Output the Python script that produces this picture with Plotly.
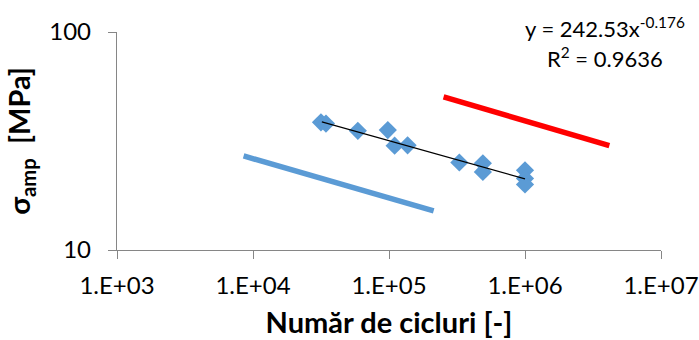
import plotly.graph_objects as go

# measured data (cycles, stress amplitude MPa)
cycles = [3.16e4, 3.44e4, 5.9e4, 9.8e4, 1.1e5, 1.37e5, 3.29e5, 4.9e5, 4.9e5, 1.0e6, 1.0e6, 1.0e6]
stress = [38.5, 38.0, 35.2, 35.5, 30.1, 30.2, 25.2, 25.0, 22.8, 23.2, 21.3, 20.0]

# power-law trend line endpoints
trend_x = [3.21e4, 1.0e6]
trend_y = [38.7, 21.2]

# blue reference line
blue_x = [8.53e3, 2.13e5]
blue_y = [27.0, 15.1]

# red reference line
red_x = [2.52e5, 4.17e6]
red_y = [50.4, 30.1]

x_tickvals = [1e3, 1e4, 1e5, 1e6, 1e7]
x_ticktext = ["1.E+03", "1.E+04", "1.E+05", "1.E+06", "1.E+07"]
y_tickvals = [10, 100]
y_ticktext = ["10", "100"]

eq_text = "y = 242.53x<sup>-0.176</sup>"
r2_text = "R<sup>2</sup> = 0.9636"

FONT = "Lato"
AX = "#868686"

fig = go.Figure()
fig.add_trace(go.Scatter(x=blue_x, y=blue_y, mode="lines",
                         line=dict(color="#5B9BD5", width=5.5), showlegend=False))
fig.add_trace(go.Scatter(x=red_x, y=red_y, mode="lines",
                         line=dict(color="#FF0000", width=5.5), showlegend=False))
fig.add_trace(go.Scatter(x=cycles, y=stress, mode="markers",
                         marker=dict(symbol="diamond", size=14, color="#5B9BD5"),
                         showlegend=False))
fig.add_trace(go.Scatter(x=trend_x, y=trend_y, mode="lines",
                         line=dict(color="black", width=1.2), showlegend=False))

fig.update_layout(
    width=699, height=340,
    margin=dict(l=117, r=38, t=32, b=90),
    paper_bgcolor="white", plot_bgcolor="white",
    font=dict(family=FONT, size=24, color="black"),
    xaxis=dict(type="log", range=[3, 7], tickvals=x_tickvals, ticktext=x_ticktext,
               automargin=False,
               showgrid=False, zeroline=False, showline=True, linecolor=AX, linewidth=1.3,
               ticks="outside", ticklen=8, tickcolor=AX, tickwidth=1.3,
               ticklabelstandoff=6,
               title=dict(text="<b>Număr de cicluri [-]</b>", font=dict(size=29), standoff=14)),
    yaxis=dict(type="log", range=[1, 2], tickvals=y_tickvals, ticktext=y_ticktext,
               automargin=False,
               showgrid=False, zeroline=False, showline=True, linecolor=AX, linewidth=1.3,
               ticks="outside", ticklen=8, tickcolor=AX, tickwidth=1.3,
               ticklabelstandoff=12,
               title=dict(text="<b>σ<sub>amp</sub>  [MPa]</b>", font=dict(size=29), standoff=10)),
    annotations=[
        dict(text=eq_text, xref="paper", yref="paper", x=(605 - 117) / 544, y=(250 - 27) / 218,
             showarrow=False, font=dict(size=22), xanchor="center", yanchor="middle"),
        dict(text=r2_text, xref="paper", yref="paper", x=(605 - 117) / 544, y=(250 - 57) / 218,
             showarrow=False, font=dict(size=22), xanchor="center", yanchor="middle"),
    ],
)

fig.write_html("out.html")
